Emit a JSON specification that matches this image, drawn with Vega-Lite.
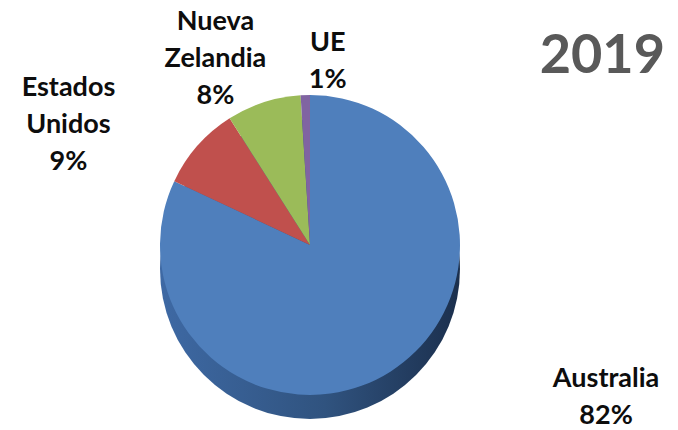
{
  "$schema": "https://vega.github.io/schema/vega-lite/v6.json",
  "width": 678,
  "height": 430,
  "autosize": {"type": "fit", "contains": "padding"},
  "padding": 0,
  "background": "#ffffff",
  "config": {"view": {"stroke": null}},
  "data": {"values": [
    {"pais": "Australia", "valor": 82, "orden": 1},
    {"pais": "Estados Unidos", "valor": 9, "orden": 2},
    {"pais": "Nueva Zelandia", "valor": 8, "orden": 3},
    {"pais": "UE", "valor": 1, "orden": 4}
  ]},
  "transform": [{"calculate": "datum.pais + ' ' + datum.valor + '%'", "as": "etiqueta"}],
  "layer": [
    {
      "mark": {"type": "arc", "radius": 150, "xOffset": -29, "yOffset": 54,
        "color": {"gradient": "linear", "x1": 0, "x2": 1, "y1": 0, "y2": 0,
          "stops": [{"offset": 0, "color": "#3e69a4"}, {"offset": 0.55, "color": "#30537f"}, {"offset": 1, "color": "#1b2f4d"}]}},
      "encoding": {"theta": {"aggregate": "sum", "field": "valor", "type": "quantitative"}}
    },
    {
      "mark": {"type": "arc", "radius": 150, "xOffset": -29, "yOffset": 30},
      "encoding": {
        "theta": {"field": "valor", "type": "quantitative", "stack": true},
        "order": {"field": "orden", "type": "quantitative"},
        "color": {"field": "pais", "type": "nominal", "legend": null,
          "scale": {"domain": ["Australia", "Estados Unidos", "Nueva Zelandia", "UE"], "range": ["#4f7fbc", "#c0504d", "#9bbb59", "#8064a2"]}}
      }
    },
    {
      "mark": {"type": "text", "radius": 170, "xOffset": -29, "yOffset": 30, "dx": 205, "dy": -10, "font": "Lato", "fontSize": 27, "fontWeight": "bold", "color": "#0d0d0d", "lineBreak": " ", "lineHeight": 37, "align": "center", "baseline": "middle"},
      "encoding": {
        "theta": {"field": "valor", "type": "quantitative", "stack": true},
        "order": {"field": "orden", "type": "quantitative"},
        "text": {"condition": {"test": "datum.pais === 'Australia'", "field": "etiqueta"}, "value": ""}
      }
    },
    {
      "mark": {"type": "text", "radius": 170, "xOffset": -29, "yOffset": 30, "dx": -114, "dy": -45, "font": "Lato", "fontSize": 27, "fontWeight": "bold", "color": "#0d0d0d", "lineBreak": " ", "lineHeight": 37, "align": "center", "baseline": "middle"},
      "encoding": {
        "theta": {"field": "valor", "type": "quantitative", "stack": true},
        "order": {"field": "orden", "type": "quantitative"},
        "text": {"condition": {"test": "datum.pais === 'Estados Unidos'", "field": "etiqueta"}, "value": ""}
      }
    },
    {
      "mark": {"type": "text", "radius": 170, "xOffset": -29, "yOffset": 30, "dx": -42, "dy": -61, "font": "Lato", "fontSize": 27, "fontWeight": "bold", "color": "#0d0d0d", "lineBreak": " ", "lineHeight": 37, "align": "center", "baseline": "middle"},
      "encoding": {
        "theta": {"field": "valor", "type": "quantitative", "stack": true},
        "order": {"field": "orden", "type": "quantitative"},
        "text": {"condition": {"test": "datum.pais === 'Nueva Zelandia'", "field": "etiqueta"}, "value": ""}
      }
    },
    {
      "mark": {"type": "text", "radius": 170, "xOffset": -29, "yOffset": 30, "dx": 23, "dy": -32, "font": "Lato", "fontSize": 27, "fontWeight": "bold", "color": "#0d0d0d", "lineBreak": " ", "lineHeight": 37, "align": "center", "baseline": "middle"},
      "encoding": {
        "theta": {"field": "valor", "type": "quantitative", "stack": true},
        "order": {"field": "orden", "type": "quantitative"},
        "text": {"condition": {"test": "datum.pais === 'UE'", "field": "etiqueta"}, "value": ""}
      }
    },
    {
      "data": {"values": [{"titulo": "2019"}]},
      "mark": {"type": "text", "font": "Lato", "fontSize": 54, "fontWeight": "bold", "color": "#595959", "align": "right", "baseline": "alphabetic", "dx": 326, "dy": -142},
      "encoding": {"text": {"field": "titulo", "type": "nominal"}}
    }
  ]
}
